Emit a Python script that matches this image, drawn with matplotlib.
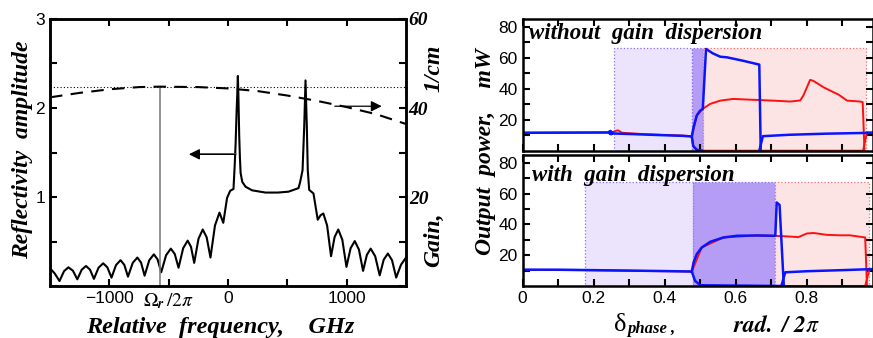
import matplotlib
matplotlib.use("Agg")
import matplotlib.pyplot as plt
import numpy as np
from matplotlib.patches import Rectangle

plt.rcParams['font.family'] = ['Liberation Sans', 'DejaVu Sans']
plt.rcParams['mathtext.fontset'] = 'stix'

# ---- left panel: reflectivity spectrum and gain curve ----
freq = [-1500, -1460, -1420, -1382, -1345, -1307, -1270, -1233, -1197, -1163,
        -1130, -1091, -1052, -1017, -982, -944, -906, -874, -843, -803,
        -764, -733, -703, -664, -625, -594, -563, -522, -482, -449,
        -417, -378, -340, -312, -285, -249, -213, -180, -148, -110,
        -72, -40, -8, 18, 46, 56, 64, 72, 78, 83, 88, 94, 100, 106, 120,
        148, 203, 315, 420, 510, 594, 608, 628, 642, 653, 664, 672, 684,
        720, 756, 780, 803, 835, 868, 898, 929, 963, 998, 1033, 1068, 1103,
        1138, 1170, 1202, 1240, 1278, 1312, 1347, 1382, 1417, 1458, 1500]
refl = [0.20, 0.14, 0.056, 0.167, 0.21, 0.172, 0.075, 0.183, 0.225, 0.184,
        0.08, 0.206, 0.255, 0.21, 0.094, 0.235, 0.29, 0.238, 0.105, 0.26,
        0.32, 0.263, 0.116, 0.289, 0.356, 0.30, 0.155, 0.346, 0.42, 0.36,
        0.205, 0.425, 0.51, 0.44, 0.26, 0.53, 0.635, 0.547, 0.32, 0.68,
        0.825, 0.71, 0.99, 1.07, 1.09, 1.35, 1.6, 1.95, 2.16, 2.36, 2.1, 1.7, 1.45, 1.27, 1.17,
        1.115, 1.075, 1.05, 1.05, 1.06, 1.10, 1.17, 1.30, 1.79, 2.31, 1.79, 1.30, 1.08,
        1.04, 0.745, 0.795, 0.815, 0.68, 0.335, 0.55, 0.635, 0.52, 0.215, 0.425, 0.505, 0.41,
        0.17, 0.35, 0.42, 0.335, 0.12, 0.296, 0.365, 0.29, 0.095, 0.24, 0.32]

gain_freq = [-1500, -1250, -1000, -750, -575, -250, 0, 250, 500, 750, 1000, 1250, 1500]
gain = [42.4, 43.4, 44.2, 44.7, 44.8, 44.7, 44.4, 43.8, 42.8, 41.6, 40.2, 38.6, 36.4]
gain_max = 44.8
omega_r = -575

# ---- right panels: output power vs phase ----
# without gain dispersion
top_regions = [(0.257, 0.476, '#ece4fd', '#8a6cf0'),
               (0.476, 0.507, '#b59cf5', '#8a6cf0'),
               (0.507, 0.967, '#fde4e4', '#f07070')]
top_region_h = 66.2
top_blue = [
    ([0, 0.24, 0.247, 0.252, 0.249, 0.244, 0.25, 0.35, 0.45, 0.476],
     [11.6, 11.8, 12.8, 11.8, 10.6, 11.4, 11.2, 10.4, 9.6, 9.2]),
    ([0.476, 0.481, 0.490, 0.499, 0.507, 0.516, 0.535, 0.556, 0.575, 0.62, 0.666, 0.670],
     [9.2, 15.2, 22.8, 25.8, 27.1, 65.8, 63.0, 60.8, 60.4, 58.2, 55.7, 0]),
    ([0.476, 0.48, 0.49, 0.505], [9.2, 3.0, 0.6, 0]),
    ([0.666, 0.676, 0.75, 0.85, 0.986], [0, 9.4, 10.3, 11.0, 11.6]),
]
top_red = [
    ([0, 0.25, 0.262, 0.268, 0.28, 0.35, 0.45, 0.476],
     [11.6, 11.8, 12.8, 13.2, 11.6, 10.6, 9.8, 9.4]),
    ([0.476, 0.490, 0.507, 0.528, 0.556, 0.593, 0.631, 0.706, 0.753, 0.781, 0.790, 0.809,
      0.818, 0.847, 0.875, 0.889, 0.913, 0.950, 0.957, 0.962],
     [9.2, 22.8, 27.1, 30.3, 32.4, 33.5, 33.1, 32.4, 31.8, 32.5, 35.7, 45.8,
      45.2, 41.0, 37.8, 36.3, 32.4, 31.8, 31.4, 0]),
    ([0.476, 0.48, 0.49, 0.505, 0.958, 0.969, 0.986], [9.2, 3.0, 0.6, 0, 0, 12.0, 11.8]),
]

# with gain dispersion
bot_regions = [(0.175, 0.478, '#ece4fd', '#8a6cf0'),
               (0.478, 0.711, '#b59cf5', '#8a6cf0'),
               (0.711, 0.976, '#fde4e4', '#f07070')]
bot_region_h = 67.8
bot_blue = [
    ([0, 0.1, 0.2, 0.3, 0.4, 0.476], [10.6, 10.6, 10.3, 10.0, 9.7, 9.4]),
    ([0.476, 0.481, 0.490, 0.504, 0.528, 0.565, 0.603, 0.659, 0.704, 0.711, 0.715,
      0.723, 0.735],
     [9.4, 15.3, 20.7, 25.0, 28.7, 31.5, 32.6, 32.8, 32.6, 32.6, 54.2, 52.6, 0]),
    ([0.476, 0.485, 0.50, 0.73], [9.4, 3.4, 0.5, 0]),
    ([0.728, 0.739, 0.8, 0.9, 0.986], [0, 8.9, 9.6, 10.3, 11.0]),
]
bot_red = [
    ([0, 0.2, 0.4, 0.476], [10.5, 10.2, 9.6, 9.4]),
    ([0.476, 0.504, 0.565, 0.659, 0.704, 0.744, 0.776, 0.800, 0.819, 0.856, 0.893,
      0.921, 0.964, 0.969],
     [9.4, 25.0, 31.5, 32.8, 32.6, 32.2, 31.7, 34.1, 34.4, 33.2, 32.9, 32.9, 31.5, 0]),
    ([0.73, 0.964, 0.976, 0.986], [0, 0, 11.0, 11.0]),
]

serif = dict(family='Liberation Serif', weight='bold', style='italic')

fig = plt.figure(figsize=(8.73, 3.38), dpi=100)

# ===== left panel =====
ax = fig.add_axes([0.0573, 0.1538, 0.4078, 0.790])
ax.plot(freq, refl, color='black', lw=1.5)
ax.axvline(omega_r, ymin=0, ymax=gain_max / 60, color='gray', lw=1.2)
ax.set_xlim(-1500, 1500)
ax.set_ylim(0, 3)
ax.set_xticks([-1000, -500, 0, 500, 1000])
ax.set_xticklabels(['\u22121000', r'$\Omega_{\mathbfit{r}}\,/2\pi$', '0', '', '1000'])
ax.set_yticks(np.arange(0, 3.01, 0.5))
ax.set_yticklabels(['', '', '1', '', '2', '', '3'])
ax.tick_params(direction='in', length=5, width=1.5, labelsize=12.5, top=True)
ax.get_xticklabels()[1].set_fontsize(14)
for s in ax.spines.values():
    s.set_linewidth(1.8)

ax.annotate('', xy=(-330, 1.48), xytext=(64, 1.48),
            arrowprops=dict(arrowstyle='-|>', color='black', lw=1.0, mutation_scale=16,
                            shrinkA=0, shrinkB=0))
ax.plot([-250, 64], [1.48, 1.48], color='gray', lw=1.2)

ax2 = ax.twinx()
ax2.plot(gain_freq, gain, color='black', lw=1.5, linestyle=(0, (6, 4)))
ax2.axhline(gain_max, color='black', lw=0.8, linestyle=(0, (1, 2)))
ax2.set_ylim(0, 60)
ax2.set_yticks(np.arange(0, 61, 10))
ax2.set_yticklabels(['', '', '20', '', '40', '', '60'], fontdict=serif, fontsize=14)
ax2.tick_params(direction='in', length=5, width=1.5, pad=2)
ax2.annotate('', xy=(1295, 40.4), xytext=(900, 40.4),
             arrowprops=dict(arrowstyle='-|>', color='black', lw=0.9, mutation_scale=16,
                             shrinkA=0, shrinkB=0))
for s in ax2.spines.values():
    s.set_linewidth(1.8)

fig.text(23 / 873, 1 - 150 / 338, 'Reflectivity  amplitude', rotation=90,
         ha='center', va='center', fontsize=17, **serif)
fig.text(434 / 873, 1 - 240 / 338, 'Gain,', rotation=90,
         ha='center', va='center', fontsize=17, **serif)
fig.text(434 / 873, 1 - 68 / 338, '1/cm', rotation=90,
         ha='center', va='center', fontsize=17, **serif)
fig.text(220 / 873, 1 - 327 / 338, 'Relative  frequency,    GHz',
         ha='center', va='center', fontsize=17.5, **serif)


# ===== right panels =====
def panel(rect, regions, region_h, reds, blues, label, label_x, label_y):
    a = fig.add_axes(rect)
    for x0, x1, fc, ec in regions:
        a.add_patch(Rectangle((x0, 0), x1 - x0, region_h, facecolor=fc,
                              edgecolor=ec, linestyle=':', lw=0.9))
    for xs, ys in reds:
        a.plot(xs, ys, color='#ff1010', lw=1.4)
    for xs, ys in blues:
        a.plot(xs, ys, color='#0a14ff', lw=1.8)
    a.set_xlim(0, 0.986)
    a.set_ylim(0, 85)
    a.set_xticks(np.arange(0, 0.95, 0.1))
    a.set_yticks(np.arange(10, 81, 10))
    a.set_yticklabels(['', '20', '', '40', '', '60', '', '80'])
    a.tick_params(direction='in', length=5, width=1.5, labelsize=12.5, top=True, right=True)
    for s in a.spines.values():
        s.set_linewidth(1.8)
    a.text(label_x, label_y, label, fontsize=16.5, **serif)
    return a


top = panel([0.5987, 0.5541, 0.4013, 0.3888], top_regions, top_region_h,
            top_red, top_blue, 'without  gain  dispersion', 0.018, 72)
top.set_xticklabels([])
bot = panel([0.5987, 0.1538, 0.4013, 0.3876], bot_regions, bot_region_h,
            bot_red, bot_blue, 'with  gain  dispersion', 0.025, 68)
bot.set_xticklabels(['0', '', '0.2', '', '0.4', '', '0.6', '', '0.8', ''])

fig.text(614 / 873, 1 - 325 / 338, '\u03b4', ha='left', va='center',
         fontsize=19, family='Liberation Serif')
fig.text(627 / 873, 1 - 329 / 338, 'phase ,', ha='left', va='center',
         fontsize=12, **serif)
fig.text(485 / 873, 1 - 152 / 338, 'Output  power,    mW', rotation=90,
         ha='center', va='center', fontsize=17, **serif)
fig.text(777 / 873, 1 - 326 / 338, r'$\mathbfit{rad.\ /\ 2}\pi$',
         ha='center', va='center', fontsize=17)

fig.savefig('out.png', dpi=100)
